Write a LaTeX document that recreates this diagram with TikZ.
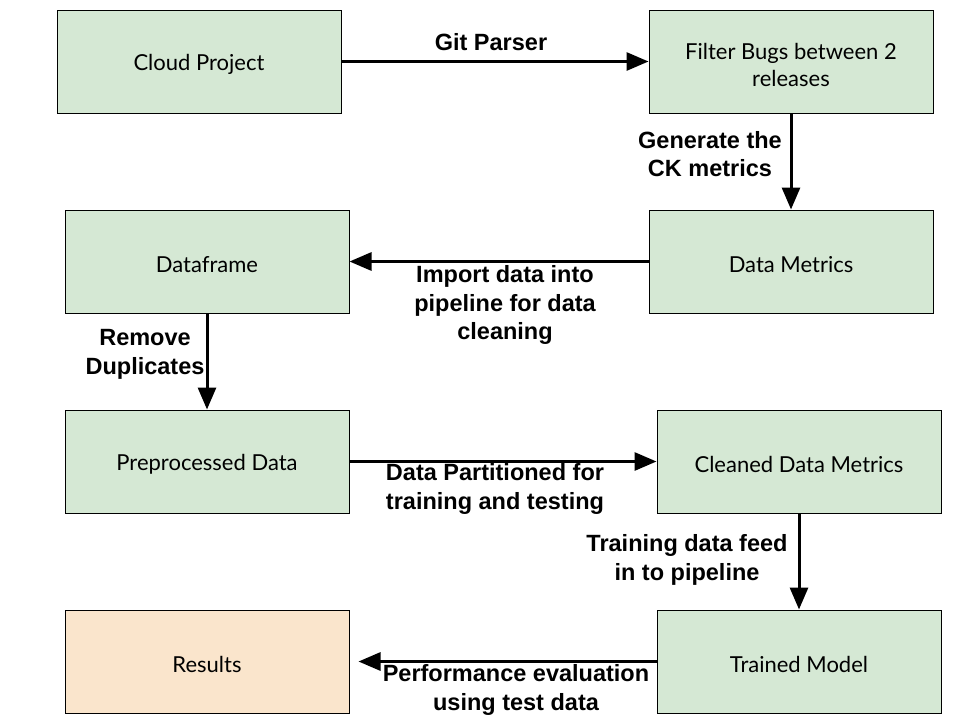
\documentclass[tikz,border=0pt]{standalone}
\usepackage{fontspec}
\setmainfont{Liberation Sans}
\newfontfamily\boxfont{Lato}
\usetikzlibrary{arrows.meta}
\definecolor{gfill}{HTML}{D5E8D4}
\definecolor{ofill}{HTML}{FAE5CC}
\newcommand{\lowtxt}[1]{\raisebox{-3pt}[\height][\depth]{#1}}
\tikzset{
  procbox/.style={draw=black, line width=1pt, fill=gfill, minimum width=284pt, minimum height=103pt, inner sep=0pt, align=center, font=\boxfont\fontsize{22}{27}\selectfont},
  resbox/.style={procbox, fill=ofill},
  flow/.style={line width=3pt, -{Triangle[length=22pt,width=18pt]}},
  lbl/.style={align=center, inner sep=0pt, font=\bfseries\fontsize{23.5}{28.5}\selectfont}
}
\begin{document}
\begin{tikzpicture}[x=1pt,y=-1pt]
\useasboundingbox (0,0) rectangle (960,720);
\node[procbox] (cloud) at (199,61.5) {\lowtxt{Cloud Project}};
\node[procbox] (filter) at (791,61.5) {\lowtxt{Filter Bugs between 2}\\\lowtxt{releases}};
\node[procbox] (dataframe) at (207,261.5) {\lowtxt{Dataframe}};
\node[procbox] (metrics) at (791,261.5) {\lowtxt{Data Metrics}};
\node[procbox] (prep) at (207,461.5) {\lowtxt{Preprocessed Data}};
\node[procbox] (cleaned) at (799,461.5) {\lowtxt{Cleaned Data Metrics}};
\node[resbox] (results) at (207,661.5) {\lowtxt{Results}};
\node[procbox] (trained) at (799,661.5) {\lowtxt{Trained Model}};

\draw[flow] (cloud.east) -- (filter.west);
\draw[flow] (filter.south) -- (metrics.north);
\draw[flow] (metrics.west) -- (dataframe.east);
\draw[flow] (dataframe.south) -- (prep.north);
\draw[flow] (prep.east) -- (cleaned.west);
\draw[flow] (cleaned.south) -- (trained.north);
\draw[flow, shorten >=9pt] (trained.west) -- (results.east);

\node[lbl] (l1) at (491,42) {Git Parser};
\node[lbl] (l2) at (710,154) {Generate the\\CK metrics};
\node[lbl] (l3) at (505,305) {Import data into\\pipeline for data\\cleaning};
\node[lbl] (l4) at (145,354.5) {Remove\\Duplicates};
\node[lbl] (l5) at (495,489) {Data Partitioned for\\training and testing};
\node[lbl] (l6) at (687,560) {Training data feed\\in to pipeline};
\node[lbl] (l7) at (516,690) {Performance evaluation\\using test data};
\end{tikzpicture}
\end{document}
